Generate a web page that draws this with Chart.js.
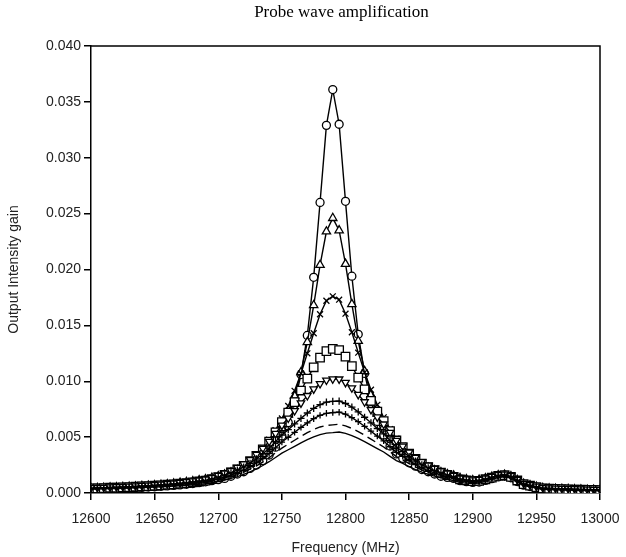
<!DOCTYPE html>
<html>
<head>
<meta charset="utf-8">
<script src="https://cdn.jsdelivr.net/npm/chart.js@4.4.1/dist/chart.umd.min.js"></script>
<style>
  html, body { margin: 0; padding: 0; background: #fff; }
  #wrap { width: 626px; height: 557px; }
</style>
</head>
<body>
<div id="wrap"><canvas id="grafico" width="626" height="557"></canvas></div>
<script>
// Frequências (MHz)
const freq = [
  12600, 12605, 12610, 12615, 12620, 12625, 12630, 12635, 12640, 12645,
  12650, 12655, 12660, 12665, 12670, 12675, 12680, 12685, 12690, 12695,
  12700, 12705, 12710, 12715, 12720, 12725, 12730, 12735, 12740, 12745,
  12750, 12755, 12760, 12765, 12770, 12775, 12780, 12785, 12790,
  12795, 12800, 12805, 12810, 12815, 12820, 12825, 12830, 12835, 12840,
  12845, 12850, 12855, 12860, 12865, 12870, 12875, 12880, 12885, 12890,
  12895, 12900, 12905, 12910, 12915, 12920, 12925, 12930, 12935, 12940,
  12945, 12950, 12955, 12960, 12965, 12970, 12975, 12980, 12985, 12990, 12995, 13000
];

const circles = [
  0.00035, 0.00037, 0.00038, 0.0004, 0.00042, 0.00044, 0.00046, 0.00048, 0.0005, 0.00053,
  0.00056, 0.0006, 0.00064, 0.00068, 0.00073, 0.00078, 0.00085, 0.00092, 0.001, 0.0011,
  0.0012, 0.0013, 0.0015, 0.0017, 0.0019, 0.0022, 0.0025, 0.0029, 0.0034, 0.0041,
  0.0051, 0.0063, 0.0081, 0.0106, 0.0141, 0.0193, 0.026, 0.0329, 0.0361,
  0.033, 0.0261, 0.0194, 0.0142, 0.0107, 0.0082, 0.0064, 0.0052, 0.0042, 0.0035,
  0.0031, 0.0027, 0.0024, 0.0021, 0.0019, 0.0017, 0.0015, 0.0014, 0.0013, 0.0011,
  0.00102, 0.00095, 0.00098, 0.00113, 0.00128, 0.00144, 0.0015, 0.00136, 0.00103, 0.0007,
  0.00058, 0.00046, 0.00034, 0.00032, 0.0003, 0.00028, 0.00027, 0.00025, 0.00024, 0.00023, 0.00022, 0.00021
];

const triangles = [
  0.00042, 0.00044, 0.00046, 0.00048, 0.0005, 0.00053, 0.00055, 0.00058, 0.00062, 0.00065,
  0.00069, 0.00073, 0.00078, 0.00084, 0.0009, 0.00097, 0.00104, 0.00113, 0.00123, 0.00135,
  0.00148, 0.00164, 0.00182, 0.00204, 0.0023, 0.0026, 0.003, 0.0035, 0.0041, 0.0048,
  0.0058, 0.007, 0.0087, 0.0108, 0.0135, 0.0168, 0.0204, 0.0234, 0.0246,
  0.0235, 0.0205, 0.0169, 0.0136, 0.0109, 0.0088, 0.0071, 0.0059, 0.0049, 0.0042,
  0.0037, 0.0032, 0.0028, 0.0025, 0.00224, 0.00202, 0.00184, 0.00168, 0.00155, 0.00133,
  0.00123, 0.00114, 0.00117, 0.0013, 0.00144, 0.00158, 0.00163, 0.00149, 0.00115, 0.00082,
  0.00068, 0.00055, 0.00043, 0.0004, 0.00038, 0.00036, 0.00034, 0.00032, 0.00031, 0.00029, 0.00028, 0.00027
];

const crosses = [
  0.00044, 0.00046, 0.00048, 0.0005, 0.00052, 0.00055, 0.00057, 0.0006, 0.00064, 0.00067,
  0.00072, 0.00076, 0.00081, 0.00086, 0.00093, 0.00099, 0.00107, 0.00115, 0.00125, 0.00136,
  0.00151, 0.0017, 0.00192, 0.00219, 0.00251, 0.00292, 0.00342, 0.00402, 0.00477, 0.00562,
  0.00667, 0.00779, 0.00914, 0.0107, 0.0125, 0.0143, 0.016, 0.0172, 0.0176,
  0.0173, 0.01605, 0.01438, 0.01256, 0.0108, 0.00924, 0.00789, 0.00677, 0.00572, 0.00487,
  0.00422, 0.00362, 0.00312, 0.00271, 0.00239, 0.00212, 0.0019, 0.00171, 0.00156, 0.00135,
  0.00125, 0.00117, 0.00119, 0.00133, 0.00146, 0.00161, 0.00166, 0.00152, 0.00117, 0.00084,
  0.0007, 0.00057, 0.00045, 0.00042, 0.0004, 0.00038, 0.00036, 0.00034, 0.00032, 0.00031, 0.00029, 0.00028
];

const squares = [
  0.00041, 0.00042, 0.00044, 0.00047, 0.00048, 0.00051, 0.00053, 0.00056, 0.00059, 0.00062,
  0.00065, 0.00069, 0.00074, 0.00078, 0.00083, 0.00089, 0.00096, 0.00103, 0.00111, 0.00125,
  0.00141, 0.00162, 0.00185, 0.00211, 0.00243, 0.00285, 0.00333, 0.00391, 0.0046, 0.00543,
  0.00634, 0.00719, 0.00814, 0.00917, 0.01023, 0.01125, 0.01211, 0.01269, 0.0129,
  0.01279, 0.01221, 0.01135, 0.01033, 0.00927, 0.00824, 0.00729, 0.00644, 0.00553, 0.0047,
  0.00411, 0.00353, 0.00305, 0.00263, 0.00231, 0.00205, 0.00182, 0.00161, 0.00145, 0.00121,
  0.00113, 0.00106, 0.00109, 0.00123, 0.00138, 0.00154, 0.00159, 0.00145, 0.00112, 0.00079,
  0.00066, 0.00053, 0.00041, 0.00038, 0.00037, 0.00034, 0.00032, 0.00031, 0.00029, 0.00028, 0.00027, 0.00026
];

const downTriangles = [
  0.00047, 0.00048, 0.0005, 0.00053, 0.00055, 0.00057, 0.0006, 0.00063, 0.00066, 0.0007,
  0.00074, 0.00078, 0.00083, 0.00088, 0.00093, 0.001, 0.00107, 0.00115, 0.00123, 0.00137,
  0.00156, 0.00176, 0.002, 0.00228, 0.00259, 0.00298, 0.00345, 0.00399, 0.0046, 0.00532,
  0.00606, 0.00669, 0.00736, 0.00805, 0.00871, 0.0093, 0.00978, 0.01009, 0.0102,
  0.01019, 0.00988, 0.0094, 0.00881, 0.00815, 0.00746, 0.00679, 0.00616, 0.00542, 0.0047,
  0.00419, 0.00365, 0.00318, 0.00279, 0.00248, 0.0022, 0.00196, 0.00176, 0.00157, 0.00133,
  0.00125, 0.00117, 0.0012, 0.00133, 0.00148, 0.00163, 0.00168, 0.00154, 0.0012, 0.00086,
  0.00073, 0.0006, 0.00047, 0.00045, 0.00043, 0.0004, 0.00038, 0.00037, 0.00035, 0.00033, 0.00031, 0.0003
];

const plusA = [
  0.00044, 0.00046, 0.00047, 0.00049, 0.00052, 0.00054, 0.00056, 0.00059, 0.00062, 0.00065,
  0.00069, 0.00073, 0.00077, 0.00082, 0.00087, 0.00093, 0.00099, 0.00106, 0.00113, 0.00126,
  0.00142, 0.0016, 0.00181, 0.00205, 0.00232, 0.00266, 0.00305, 0.0035, 0.00401, 0.00459,
  0.00519, 0.00567, 0.00618, 0.00668, 0.00716, 0.00758, 0.00791, 0.00813, 0.0082,
  0.00823, 0.00801, 0.00768, 0.00726, 0.00678, 0.00628, 0.00577, 0.00529, 0.00469, 0.00411,
  0.0037, 0.00325, 0.00286, 0.00252, 0.00225, 0.00201, 0.0018, 0.00162, 0.00146, 0.00123,
  0.00116, 0.00109, 0.00113, 0.00127, 0.00142, 0.00157, 0.00163, 0.00149, 0.00115, 0.00082,
  0.00069, 0.00056, 0.00044, 0.00042, 0.00039, 0.00037, 0.00036, 0.00034, 0.00032, 0.00031, 0.00029, 0.00028
];

const plusB = [
  0.0004, 0.00041, 0.00043, 0.00045, 0.00046, 0.00048, 0.00051, 0.00053, 0.00056, 0.00059,
  0.00062, 0.00065, 0.00069, 0.00073, 0.00077, 0.00082, 0.00088, 0.00094, 0.00101, 0.00112,
  0.00126, 0.00141, 0.0016, 0.00181, 0.00204, 0.00234, 0.00269, 0.00308, 0.00353, 0.00404,
  0.00456, 0.00499, 0.00543, 0.00587, 0.00628, 0.00665, 0.00695, 0.00713, 0.0072,
  0.00723, 0.00705, 0.00675, 0.00638, 0.00597, 0.00553, 0.00509, 0.00466, 0.00414, 0.00363,
  0.00328, 0.00289, 0.00254, 0.00224, 0.00201, 0.0018, 0.00161, 0.00146, 0.00132, 0.00111,
  0.00104, 0.00098, 0.00102, 0.00117, 0.00133, 0.00149, 0.00155, 0.00142, 0.00109, 0.00076,
  0.00063, 0.00051, 0.00038, 0.00036, 0.00035, 0.00033, 0.00031, 0.0003, 0.00028, 0.00027, 0.00026, 0.00025
];

const dashed = [
  0.00038, 0.00039, 0.00041, 0.00042, 0.00044, 0.00046, 0.00048, 0.0005, 0.00053, 0.00055,
  0.00058, 0.00061, 0.00065, 0.00068, 0.00072, 0.00077, 0.00082, 0.00088, 0.00094, 0.00104,
  0.00116, 0.0013, 0.00147, 0.00165, 0.00186, 0.00213, 0.00243, 0.00277, 0.00316, 0.00359,
  0.00402, 0.00437, 0.00472, 0.00507, 0.0054, 0.00568, 0.00591, 0.00605, 0.0061,
  0.00615, 0.00601, 0.00578, 0.0055, 0.00517, 0.00482, 0.00447, 0.00412, 0.00369, 0.00326,
  0.00297, 0.00263, 0.00233, 0.00206, 0.00185, 0.00167, 0.0015, 0.00136, 0.00124, 0.00104,
  0.00098, 0.00092, 0.00097, 0.00112, 0.00128, 0.00145, 0.00151, 0.00138, 0.00105, 0.00073,
  0.0006, 0.00048, 0.00036, 0.00034, 0.00032, 0.00031, 0.00029, 0.00028, 0.00027, 0.00025, 0.00024, 0.00023
];

const solid = [
  0.00035, 0.00036, 0.00037, 0.00039, 0.0004, 0.00042, 0.00044, 0.00046, 0.00048, 0.0005,
  0.00053, 0.00055, 0.00058, 0.00062, 0.00065, 0.00069, 0.00074, 0.00078, 0.00084, 0.00092,
  0.00104, 0.00116, 0.00131, 0.00147, 0.00166, 0.00189, 0.00216, 0.00246, 0.0028, 0.00318,
  0.00357, 0.00387, 0.00418, 0.00449, 0.00478, 0.00503, 0.00523, 0.00536, 0.0054,
  0.00546, 0.00533, 0.00513, 0.00488, 0.00459, 0.00428, 0.00397, 0.00367, 0.00328, 0.0029,
  0.00266, 0.00236, 0.00209, 0.00186, 0.00167, 0.00151, 0.00136, 0.00124, 0.00112, 0.00094,
  0.00088, 0.00084, 0.00089, 0.00105, 0.00122, 0.00138, 0.00145, 0.00133, 0.001, 0.00068,
  0.00056, 0.00044, 0.00032, 0.0003, 0.00029, 0.00027, 0.00026, 0.00025, 0.00023, 0.00022, 0.00021, 0.0002
];

const titulo = 'Probe wave amplification';
const tituloX = 'Frequency (MHz)';
const tituloY = 'Output Intensity gain';

// Junta frequência e valores em pontos {x, y}
function pontos(valores) {
    return freq.map((f, i) => ({ x: f, y: valores[i] }));
}

function serie(valores, estilo, raio, extra) {
    return Object.assign({
        data: pontos(valores),
        borderColor: '#000',
        borderWidth: 1.4,
        pointStyle: estilo,
        pointRadius: raio,
        pointBorderColor: '#000',
        pointBackgroundColor: '#fff',
        pointBorderWidth: 1.3,
        tension: 0
    }, extra || {});
}

// Moldura (topo e direita) e título em fonte serifada
const moldura = {
    id: 'moldura',
    afterDraw(chart) {
        const { ctx, chartArea: a } = chart;
        ctx.save();
        ctx.strokeStyle = '#000';
        ctx.lineWidth = 1.5;
        ctx.beginPath();
        ctx.moveTo(a.left, a.top);
        ctx.lineTo(a.right, a.top);
        ctx.lineTo(a.right, a.bottom);
        ctx.stroke();
        ctx.fillStyle = '#000';
        ctx.font = '17px "Liberation Serif", "Times New Roman", serif';
        ctx.textAlign = 'center';
        ctx.textBaseline = 'middle';
        ctx.fillText(titulo, (a.left + a.right) / 2 - 4, 13);
        ctx.restore();
    }
};

const fonteEixo = { family: '"Liberation Sans", Arial, sans-serif', size: 14 };

new Chart(document.getElementById('grafico').getContext('2d'), {
    type: 'line',
    data: {
        datasets: [
            serie(solid, false, 0, { pointRadius: 0 }),
            serie(dashed, false, 0, { pointRadius: 0, borderDash: [9, 5] }),
            serie(plusB, 'cross', 3.2),
            serie(plusA, 'cross', 3.6),
            serie(downTriangles, 'triangle', 4.3, { pointRotation: 180 }),
            serie(squares, 'rect', 6),
            serie(crosses, 'crossRot', 4.2),
            serie(triangles, 'triangle', 4.8),
            serie(circles, 'circle', 4)
        ]
    },
    options: {
        responsive: false,
        animation: false,
        layout: { padding: { top: 46, right: 26, left: 0, bottom: 0 } },
        plugins: {
            legend: { display: false },
            tooltip: { enabled: false }
        },
        scales: {
            x: {
                type: 'linear',
                min: 12600,
                max: 13000,
                ticks: {
                    stepSize: 50,
                    color: '#222',
                    font: fonteEixo,
                    padding: 11,
                    maxRotation: 0,
                    callback: v => String(v)
                },
                grid: { drawOnChartArea: false, drawTicks: true, tickLength: 7, color: '#000', lineWidth: 1.5 },
                border: { color: '#000', width: 1.5 },
                title: { display: true, text: tituloX, color: '#222', font: { family: fonteEixo.family, size: 14 }, padding: { top: 4, bottom: 0 } },
                afterFit: s => { s.height = 64; s.paddingLeft = 0; s.paddingRight = 0; }
            },
            y: {
                min: 0,
                max: 0.04,
                ticks: {
                    stepSize: 0.005,
                    color: '#222',
                    font: fonteEixo,
                    padding: 3,
                    callback: v => v.toFixed(3)
                },
                grid: { drawOnChartArea: false, drawTicks: true, tickLength: 7, color: '#000', lineWidth: 1.5 },
                border: { color: '#000', width: 1.5 },
                title: { display: true, text: tituloY, color: '#222', font: { family: fonteEixo.family, size: 14 }, padding: { top: 6, bottom: 0 } },
                afterFit: s => { s.width = 91; s.paddingTop = 0; s.paddingBottom = 0; }
            }
        }
    },
    plugins: [moldura]
});
</script>
</body>
</html>
